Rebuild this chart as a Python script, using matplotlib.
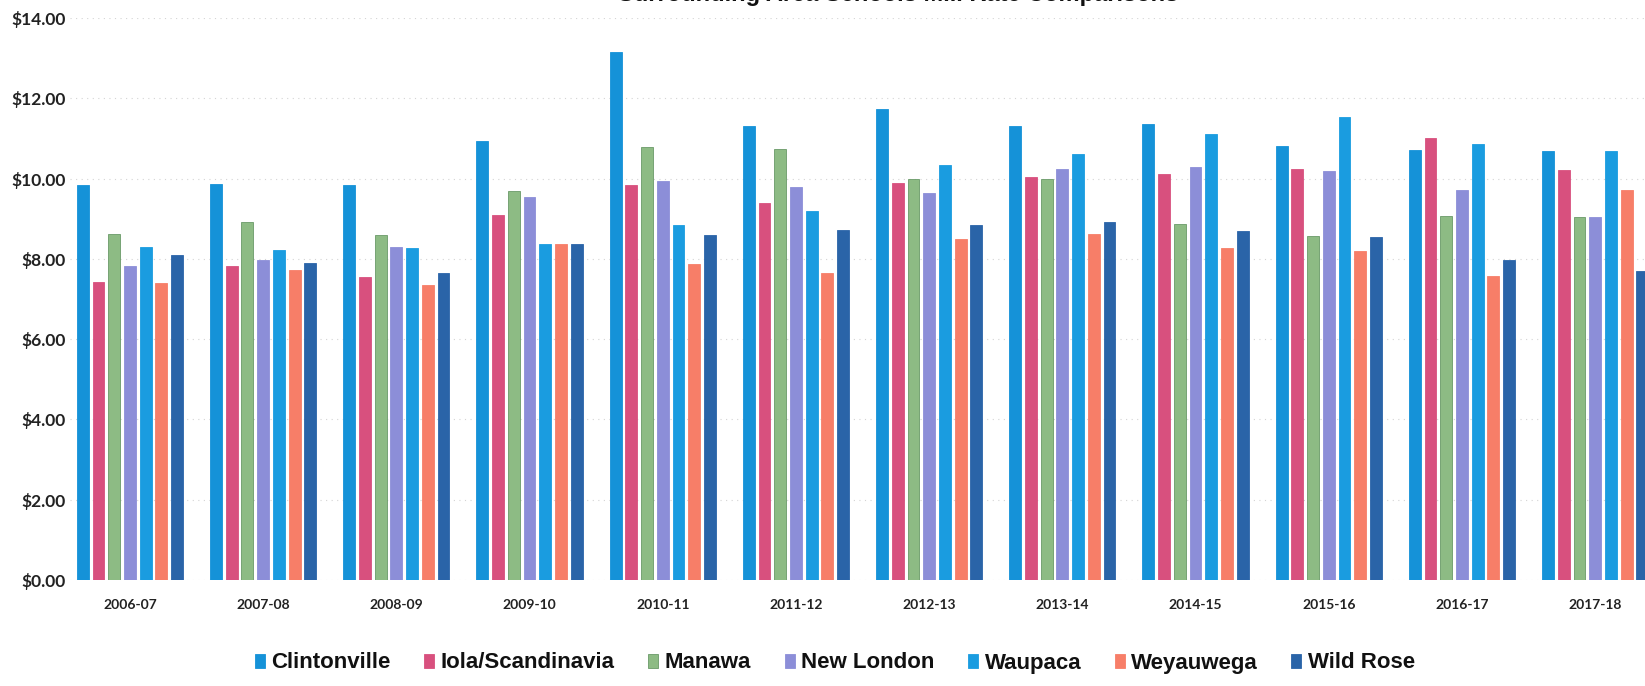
import numpy as np
import matplotlib
matplotlib.use("Agg")
import matplotlib.pyplot as plt

years = ["2006-07", "2007-08", "2008-09", "2009-10", "2010-11", "2011-12",
         "2012-13", "2013-14", "2014-15", "2015-16", "2016-17", "2017-18"]

clintonville = [9.85, 9.87, 9.85, 10.93, 13.15, 11.30, 11.74, 11.32, 11.37, 10.80, 10.70, 10.68]
iola = [7.42, 7.82, 7.55, 9.10, 9.83, 9.38, 9.88, 10.05, 10.12, 10.25, 11.02, 10.22]
manawa = [8.62, 8.92, 8.60, 9.70, 10.78, 10.73, 9.99, 10.00, 8.87, 8.58, 9.06, 9.05]
new_london = [7.83, 7.98, 8.30, 9.55, 9.93, 9.80, 9.65, 10.25, 10.30, 10.20, 9.72, 9.05]
waupaca = [8.29, 8.22, 8.27, 8.38, 8.84, 9.18, 10.35, 10.60, 11.10, 11.53, 10.86, 10.68]
weyauwega = [7.39, 7.72, 7.35, 8.38, 7.88, 7.64, 8.50, 8.62, 8.27, 8.20, 7.58, 9.72]
wild_rose = [8.09, 7.90, 7.65, 8.38, 8.60, 8.72, 8.84, 8.93, 8.70, 8.55, 7.97, 7.70]

series = [
    ("Clintonville", clintonville, "#1592d8"),
    ("Iola/Scandinavia", iola, "#d8507e"),
    ("Manawa", manawa, "#8dbb84"),
    ("New London", new_london, "#8c8ed8"),
    ("Waupaca", waupaca, "#1a9ce0"),
    ("Weyauwega", weyauwega, "#f77e68"),
    ("Wild Rose", wild_rose, "#2a64a8"),
]

W, H = 1645, 686
fig = plt.figure(figsize=(W / 100, H / 100), dpi=100)
ax = fig.add_axes([70 / W, 106 / H, 1 - 70 / W, (580 - 18) / H])

x = np.arange(len(years))
pitch = 0.118
width = 0.089
for i, (name, vals, color) in enumerate(series):
    edge = "#6a9a68" if name == "Manawa" else color
    ax.bar(x + (i - 3) * pitch, vals, width, color=color, edgecolor=edge,
           linewidth=0.6, label=name, zorder=3)

ax.set_xlim(-0.45, 11.374)
ax.set_ylim(0, 14)
ax.set_yticks(np.arange(0, 15, 2))
ax.set_yticklabels([f"${v:.2f}" for v in np.arange(0, 15, 2)],
                   fontfamily="Lato", fontweight="bold", fontsize=12.5, color="#222222")
ax.set_xticks(x)
ax.set_xticklabels(years, fontfamily="Lato", fontweight="bold", fontsize=10, color="#222222")
ax.tick_params(axis="both", length=0)
ax.tick_params(axis="x", pad=14)
ax.tick_params(axis="y", pad=3)
ax.grid(axis="y", color="#d4d4d4", linestyle=(0, (1, 4)), linewidth=0.8, zorder=0)
for s in ax.spines.values():
    s.set_visible(False)

fig.text(1178 / W, 1 + 6 / H, "Surrounding Area Schools Mill Rate Comparisons",
         ha="right", va="center", fontfamily="Liberation Sans", fontweight="bold",
         fontsize=17, color="#111111")

leg = fig.legend(loc="center", bbox_to_anchor=(835 / W, 1 - 663 / H), ncol=7,
                 frameon=False, handlelength=0.45, handleheight=0.6,
                 handletextpad=0.3, columnspacing=1.5,
                 prop={"family": "Liberation Sans", "weight": "bold", "size": 16})
for t in leg.get_texts():
    t.set_color("#111111")

fig.savefig("out.png", dpi=100)
